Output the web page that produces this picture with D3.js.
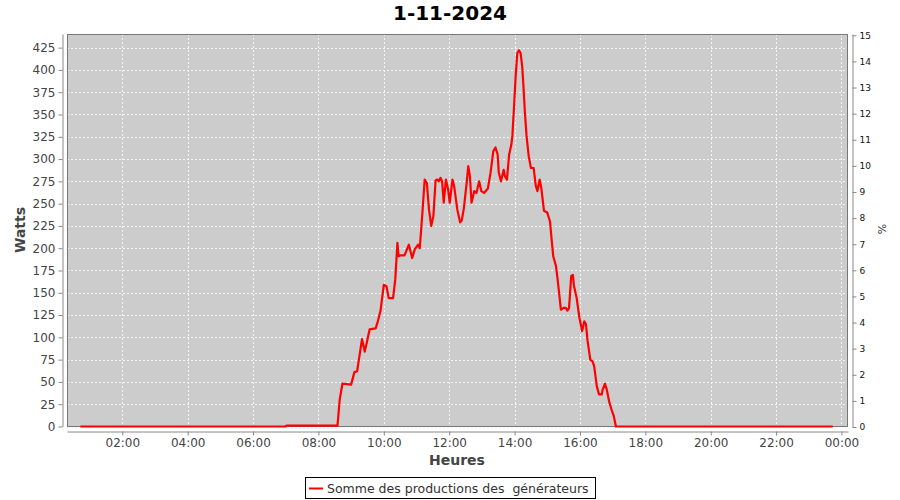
<!DOCTYPE html>
<html><head><meta charset="utf-8">
<script src="https://cdn.jsdelivr.net/npm/d3@7"></script>
<style>body{margin:0;background:#fff;} svg{display:block;font-family:"DejaVu Sans",sans-serif;} text{white-space:pre;}</style>
</head><body>
<script>
const title = "1-11-2024";
const seriesName = "Somme des productions des  générateurs";
const times = ["00:43","07:00","07:01","08:35","08:39","08:44","09:00","09:06","09:11","09:20","09:25","09:28","09:34","09:45","09:49","09:54","10:00","10:05","10:09","10:17","10:21","10:25","10:27","10:31","10:38","10:46","10:52","10:57","11:03","11:06","11:11","11:15","11:19","11:23","11:27","11:31","11:35","11:38","11:41","11:44","11:47","11:50","11:54","11:58","12:01","12:06","12:09","12:15","12:20","12:23","12:27","12:32","12:35","12:38","12:41","12:46","12:50","12:55","12:59","13:04","13:11","13:16","13:21","13:25","13:29","13:31","13:35","13:40","13:42","13:46","13:50","13:54","13:56","13:59","14:02","14:05","14:08","14:11","14:14","14:16","14:19","14:22","14:26","14:30","14:35","14:39","14:42","14:46","14:49","14:54","15:00","15:05","15:08","15:11","15:16","15:19","15:23","15:25","15:30","15:34","15:37","15:40","15:44","15:47","15:49","15:54","15:59","16:04","16:08","16:11","16:14","16:19","16:23","16:26","16:31","16:35","16:40","16:42","16:46","16:49","16:54","16:58","17:02","17:06","23:44"];
const watts = [0,0,1,1,30,48,47,61,62,98,84,92,109,110,118,130,159,157,144,144,165,206,191,192,192,204,189,199,204,200,241,277,273,243,225,236,276,277,275,279,275,251,277,266,251,277,270,243,229,231,245,273,292,281,251,264,262,275,264,262,267,285,309,313,305,285,275,288,281,277,305,316,326,359,393,419,422,419,404,385,352,326,303,290,290,270,264,277,268,242,240,230,210,191,180,165,143,131,133,133,130,133,169,170,158,144,122,107,118,115,96,75,73,68,45,36,36,42,48,42,27,19,12,0,0];
const xTickLabels = ["02:00","04:00","06:00","08:00","10:00","12:00","14:00","16:00","18:00","20:00","22:00","00:00"];
const wattTicks = [0,25,50,75,100,125,150,175,200,225,250,275,300,325,350,375,400,425];
const pctTicks = [0,1,2,3,4,5,6,7,8,9,10,11,12,13,14,15];

const W = 900, H = 500;
const L = 67, R = 848, T = 34, B = 427;
const parse = d3.timeParse("%Y-%m-%d %H:%M");
const day = "2024-11-01";
const t0 = parse(day + " 00:00");
const data = times.map((t, i) => ({t: parse(day + " " + t), v: watts[i]}));

const x = d3.scaleTime()
  .domain([new Date(+t0 + 18.5*60000), new Date(+t0 + (24*60+12)*60000)])
  .range([L, R]);
const y = d3.scaleLinear().domain([0, 440.3]).range([B - 0.5, T]);
const y2 = d3.scaleLinear().domain([0, 15.05]).range([B, T]);
const xTicks = xTickLabels.map((s, i) => new Date(+t0 + (i+1)*2*3600000));

const svg = d3.select("body").append("svg").attr("width", W).attr("height", H);
svg.append("rect").attr("width", W).attr("height", H).attr("fill", "#fff");

// plot background
svg.append("rect").attr("x", L).attr("y", T).attr("width", R-L).attr("height", B-T).attr("fill", "#cccccc");

// grid
const g = svg.append("g");
g.selectAll("line.h").data(wattTicks).join("line")
  .attr("x1", L).attr("x2", R).attr("y1", d => Math.round(y(d))+0.5).attr("y2", d => Math.round(y(d))+0.5)
  .attr("stroke", "#f4f4f4").attr("stroke-width", 1).attr("stroke-dasharray", "2,2");
g.selectAll("line.v").data(xTicks).join("line")
  .attr("y1", T).attr("y2", B).attr("x1", d => Math.round(x(d))+0.5).attr("x2", d => Math.round(x(d))+0.5)
  .attr("stroke", "#f4f4f4").attr("stroke-width", 1).attr("stroke-dasharray", "2,2");

// border
svg.append("rect").attr("x", L+0.5).attr("y", T+0.5).attr("width", R-L-1).attr("height", B-T-1)
  .attr("fill", "none").attr("stroke", "#777").attr("stroke-width", 1);

// clip
svg.append("clipPath").attr("id", "clip").append("rect").attr("x", L).attr("y", T).attr("width", R-L).attr("height", B-T+1);

// line
const line = d3.line().x(d => x(d.t)).y(d => y(d.v));
svg.append("path").datum(data).attr("clip-path", "url(#clip)")
  .attr("d", line).attr("fill", "none").attr("stroke", "#ff0000").attr("stroke-width", 2.2)
  .attr("stroke-linejoin", "round");

// axes
function styleAxis(sel, color, size) {
  sel.selectAll("path.domain").attr("stroke", "#888");
  sel.selectAll(".tick line").attr("stroke", "#888");
  sel.selectAll(".tick text").attr("fill", color).attr("font-size", size).attr("font-family", "DejaVu Sans");
}
const ax = svg.append("g").attr("transform", `translate(0,${B+4.5})`)
  .call(d3.axisBottom(x).tickValues(xTicks).tickFormat((d, i) => xTickLabels[i]).tickSizeInner(4).tickSizeOuter(0).tickPadding(3));
styleAxis(ax, "#444", 12);

const ayl = svg.append("g").attr("transform", `translate(${L-4.5},0)`)
  .call(d3.axisLeft(y).tickValues(wattTicks).tickSizeInner(4).tickSizeOuter(0).tickPadding(3));
styleAxis(ayl, "#444", 12);

const ayr = svg.append("g").attr("transform", `translate(${R+4.5},0)`)
  .call(d3.axisRight(y2).tickValues(pctTicks).tickSizeInner(4).tickSizeOuter(0).tickPadding(3));
styleAxis(ayr, "#111", 9);

// titles
svg.append("text").attr("x", 450).attr("y", 20).attr("text-anchor", "middle")
  .attr("font-size", 20).attr("font-weight", "bold").attr("fill", "#000").text(title);
svg.append("text").attr("transform", "translate(25,230) rotate(-90)").attr("text-anchor", "middle")
  .attr("font-size", 14).attr("font-weight", "bold").attr("fill", "#444").text("Watts");
svg.append("text").attr("x", 457).attr("y", 465).attr("text-anchor", "middle")
  .attr("font-size", 14).attr("font-weight", "bold").attr("fill", "#444").text("Heures");
svg.append("text").attr("transform", "translate(886,229) rotate(-90)").attr("text-anchor", "middle")
  .attr("font-size", 11).attr("fill", "#333").text("%");

// legend
const lg = svg.append("g");
lg.append("rect").attr("x", 305.5).attr("y", 477.5).attr("width", 290).attr("height", 21)
  .attr("fill", "#fff").attr("stroke", "#000").attr("stroke-width", 1);
lg.append("line").attr("x1", 309).attr("x2", 323).attr("y1", 488.5).attr("y2", 488.5)
  .attr("stroke", "#ff0000").attr("stroke-width", 2);
lg.append("text").attr("x", 327).attr("y", 492.5).attr("font-size", 12.5).attr("fill", "#333").text(seriesName);
</script>
</body></html>
